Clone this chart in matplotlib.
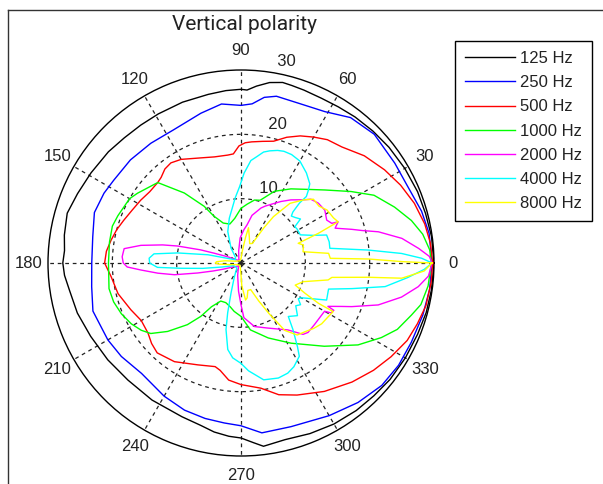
import numpy as np
import matplotlib
matplotlib.use('Agg')
from matplotlib import pyplot as plt
from matplotlib.lines import Line2D

plt.rcParams['font.family'] = ['Liberation Sans', 'DejaVu Sans']

title = 'Vertical polarity'
labels = ['125 Hz', '250 Hz', '500 Hz', '1000 Hz', '2000 Hz', '4000 Hz', '8000 Hz']
colors = ['k', (0, 0, 1), (1, 0, 0), (0, 1, 0), (1, 0, 1), (0, 1, 1), (1, 1, 0)]

r_max = 30
r_rings = [10, 20, 30]
angle_ticks = list(range(0, 360, 30))

# angles in degrees, radius in dB-ish units
ang_125 = [0, 8, 15, 22, 30, 38, 45, 52, 58, 64, 70, 74, 77, 81, 85, 88, 90, 95, 101,
           110, 119, 126, 133, 140, 149, 157, 164, 171, 176, 180, 184, 189, 197, 206,
           216, 226, 237, 249, 256, 261, 266, 270, 274, 277, 284, 292, 300, 308, 315,
           322, 330, 338, 345, 352, 360]
r_125 = [30.0, 29.9, 29.7, 29.6, 29.4, 29.2, 29.0, 28.8, 28.6, 28.5, 28.6, 28.7, 28.8,
         28.4, 27.6, 26.9, 27.0, 26.9, 26.7, 26.6, 26.5, 26.5, 26.6, 26.9, 27.2, 27.6,
         28.1, 27.8, 27.5, 27.7, 27.5, 27.0, 26.6, 26.0, 25.6, 25.3, 25.4, 25.6, 26.0,
         26.6, 27.0, 27.2, 28.0, 28.7, 28.3, 28.6, 28.9, 29.1, 29.2, 29.4, 29.5, 29.6,
         29.8, 29.9, 30.0]

ang_250 = [0, 9, 16, 25, 33, 44, 53, 61, 70, 78, 82, 86, 90, 97, 105, 117, 127, 137,
           147, 153, 161, 170, 180, 189, 198, 210, 218, 228, 240, 249, 257, 264, 270,
           277, 287, 300, 310, 319, 327, 335, 344, 352, 360]
r_250 = [29.7, 29.6, 29.2, 28.5, 28.5, 28.8, 28.3, 26.9, 26.4, 26.5, 26.0, 24.8, 24.5,
         24.9, 24.1, 23.2, 23.3, 23.5, 23.6, 23.9, 24.1, 23.4, 23.2, 23.5, 24.2, 23.9,
         23.6, 23.1, 23.9, 24.5, 24.8, 25.0, 25.3, 26.6, 26.6, 27.4, 28.3, 29.0, 29.2,
         29.2, 29.4, 29.6, 29.7]

ang_500 = [0, 6, 12, 19, 26, 33, 41, 49, 55, 60, 65, 70, 75, 80, 85, 88, 91, 94, 97,
           104, 111, 120, 125, 129, 133, 136, 142, 148, 154, 160, 165, 170, 175, 180,
           186, 194, 203, 210, 217, 222, 227, 236, 247, 256, 259, 264, 270, 279, 286,
           293, 303, 313, 321, 328, 335, 341, 347, 354, 360]
r_500 = [29.8, 29.6, 29.2, 28.5, 27.6, 26.6, 25.4, 23.9, 23.4, 22.6, 21.8, 20.8, 19.6,
         19.2, 18.9, 18.7, 18.2, 17.0, 16.9, 17.0, 17.5, 18.6, 19.0, 18.8, 18.2, 18.0,
         18.0, 18.4, 18.8, 19.4, 20.0, 20.5, 21.0, 21.2, 20.3, 19.7, 18.6, 17.9, 18.1,
         18.7, 19.1, 18.5, 17.2, 16.6, 17.0, 18.3, 18.9, 19.7, 21.3, 22.3, 23.8, 25.3,
         26.5, 27.5, 28.5, 29.0, 29.5, 29.7, 29.8]

ang_1000 = [0, 4, 9, 14, 20, 27, 33, 41, 48, 56, 65, 73, 78, 84, 90, 98, 106, 114, 120,
            123, 129, 136, 146, 150, 159, 164, 171, 180, 191, 197, 203, 209, 214, 218,
            223, 229, 233, 236, 242, 249, 256, 262, 270, 278, 290, 302, 315, 325, 332,
            337, 343, 347, 353, 360]
r_1000 = [29.6, 29.4, 28.6, 27.3, 25.4, 23.2, 20.4, 17.3, 15.4, 13.9, 12.3, 10.2, 10.0,
          9.2, 8.5, 7.0, 6.3, 6.8, 8.4, 10.5, 14.0, 18.0, 19.4, 20.0, 20.5, 20.8, 20.7,
          20.6, 20.9, 20.7, 20.2, 19.5, 18.7, 17.8, 15.6, 12.7, 10.4, 8.2, 6.7, 6.6,
          7.0, 7.6, 8.3, 10.5, 12.4, 14.7, 18.3, 22.2, 24.7, 26.4, 27.7, 28.7, 29.3, 29.6]

ang_2000 = [0, 2, 4.7, 8.7, 12.8, 15, 16.9, 20.3, 23, 23.6, 26.6, 32.2, 37.7, 42.4, 45,
            51.7, 57, 62, 67, 70, 77, 81, 85, 92, 101, 110, 130, 150, 155, 160, 162, 165,
            167, 170, 173, 177, 180, 182, 184, 187, 190, 193, 196, 199, 205, 230, 255,
            265, 270, 273, 282, 292, 305, 311, 314, 320, 326, 330, 331, 333, 333.5,
            336.6, 338.5, 343, 348, 352.4, 356, 360]
r_2000 = [29.7, 29.3, 27.7, 25.3, 21.9, 19.5, 18.0, 15.6, 16.4, 15.4, 14.9, 15.4, 15.2,
          14.7, 13.9, 12.5, 11.4, 10.4, 9.6, 9.1, 7.6, 6.0, 5.2, 3.9, 1.9, 1.0, 0.5, 1.2,
          2.3, 4.5, 6.6, 10.2, 12.5, 15.8, 18.3, 18.5, 18.3, 17.7, 15.6, 13.0, 10.5, 6.9,
          4.5, 3.0, 1.5, 0.6, 2.0, 4.4, 6.5, 8.5, 10.1, 10.9, 12.7, 14.7, 15.0, 14.9,
          14.9, 15.0, 16.0, 16.2, 15.1, 17.0, 18.5, 22.3, 25.5, 27.8, 29.2, 29.7]

ang_4000 = [0, 1.5, 3.4, 5.8, 9.4, 13.5, 18.1, 21, 25.4, 31, 34, 36.5, 40, 43, 44.5,
            45.7, 45.5, 47, 49, 54, 60, 65, 69, 72, 75.6, 78.5, 81.6, 84.5, 87, 88, 91,
            95, 104.6, 112.8, 123.7, 135, 150, 160, 166, 171, 174, 177, 180, 183, 185,
            188, 192, 200, 230, 245, 251.6, 255, 257.3, 261.3, 265, 270, 274, 281, 288,
            293, 297, 302, 304, 308, 311.5, 317, 322, 325, 328, 330, 336.6, 343.4, 347,
            350.7, 355, 358, 360]
r_4000 = [29.7, 28.1, 25.0, 19.9, 14.0, 14.1, 14.0, 12.0, 10.2, 10.2, 10.1, 11.5, 11.0,
          10.7, 11.3, 13.0, 14.5, 15.3, 16.3, 17.3, 18.3, 18.6, 18.6, 18.4, 18.0, 17.6,
          16.7, 16.0, 14.5, 14.0, 11.9, 10.2, 7.2, 5.3, 2.8, 1.2, 1.0, 2.0, 5.3, 10.0,
          13.6, 14.3, 14.2, 13.0, 9.4, 6.0, 3.0, 1.2, 1.0, 2.5, 4.9, 8.0, 10.6, 13.6,
          14.8, 15.6, 16.8, 18.5, 18.8, 18.6, 18.1, 17.1, 15.7, 13.1, 11.1, 12.0, 10.8,
          11.3, 10.5, 10.8, 14.5, 14.2, 17.7, 22.7, 26.0, 28.5, 29.7]

ang_8000 = [0, 0.5, 1.8, 3, 6.3, 10.3, 16.1, 19, 19.8, 21, 23, 26, 31.7, 36, 41.4, 45.3,
            50.6, 55, 57, 60, 66, 72, 78, 80, 84, 90, 120, 160, 172, 177, 180, 183, 188,
            200, 240, 265, 272, 277, 280, 284, 290, 295, 299, 303, 308, 313, 318, 323,
            328, 332.2, 332.5, 334.7, 337.8, 343.3, 349, 351, 353.6, 354.6, 357.5, 360]
r_8000 = [29.7, 25.0, 19.8, 13.9, 13.7, 9.8, 10.1, 9.4, 10.6, 12.9, 16.4, 16.0, 15.7,
          15.0, 15.0, 13.8, 12.0, 8.8, 6.5, 3.5, 3.3, 4.2, 5.6, 4.0, 1.8, 0.7, 0.4, 0.8,
          2.5, 3.8, 4.0, 3.4, 1.8, 0.7, 0.4, 0.9, 3.5, 5.8, 5.5, 4.4, 4.4, 6.5, 9.0,
          12.5, 14.2, 14.6, 15.2, 15.7, 15.9, 16.2, 13.6, 11.0, 9.1, 10.1, 13.8, 14.3,
          19.9, 25.1, 28.5, 29.7]

series = [(ang_125, r_125), (ang_250, r_250), (ang_500, r_500), (ang_1000, r_1000),
          (ang_2000, r_2000), (ang_4000, r_4000), (ang_8000, r_8000)]

W, H = 603, 484
fig = plt.figure(figsize=(W / 100, H / 100), dpi=100)
ax = fig.add_axes([48 / W, 28 / H, 386 / W, 386 / H], projection='polar')
ax.set_ylim(0, r_max)
ax.set_xticks([])
ax.set_yticks([])
ax.grid(False)
ax.spines['polar'].set_color('k')
ax.spines['polar'].set_linewidth(1.0)

# matlab style grid
grid_kw = dict(color='#222222', ls=(0, (3, 3)), lw=0.9, zorder=1)
th = np.linspace(0, 2 * np.pi, 361)
for rr in r_rings[:-1]:
    ax.plot(th, np.full_like(th, rr), **grid_kw)
for a in angle_ticks:
    ax.plot([np.deg2rad(a)] * 2, [0, r_max], **grid_kw)

txt_kw = dict(fontsize=12, color='#222222')
for rr in r_rings:
    ax.text(np.deg2rad(82), rr + r_max / 60, '  %d' % rr, ha='left', va='bottom', **txt_kw)
for a in angle_ticks:
    ax.text(np.deg2rad(a), r_max * 1.1, str(a), ha='center', va='center', **txt_kw)

for (angs, rs), c, lab in zip(series, colors, labels):
    ax.plot(np.deg2rad(angs), rs, color=c, lw=1.0, label=lab, zorder=3)

leg = ax.legend(loc='upper left', bbox_to_anchor=(455 / W, 1 - 41 / H),
                bbox_transform=fig.transFigure, borderaxespad=0, fancybox=False,
                edgecolor='k', framealpha=1, borderpad=0.6, handlelength=3.0,
                handletextpad=0.3, labelspacing=0.55, fontsize=12)
leg.get_frame().set_linewidth(1.0)
for t in leg.get_texts():
    t.set_color('#222222')

fig.text(245 / W, 1 - 24 / H, title, ha='center', va='center', fontsize=15,
         family='Roboto', color='#222222')

# screenshot border
fig.add_artist(Line2D([8 / W, 8 / W], [0, 1 - 10 / H], color='#333333', lw=1))
fig.add_artist(Line2D([8 / W, 1], [1 - 10 / H, 1 - 10 / H], color='#333333', lw=1))

fig.savefig('out.png', dpi=100)
